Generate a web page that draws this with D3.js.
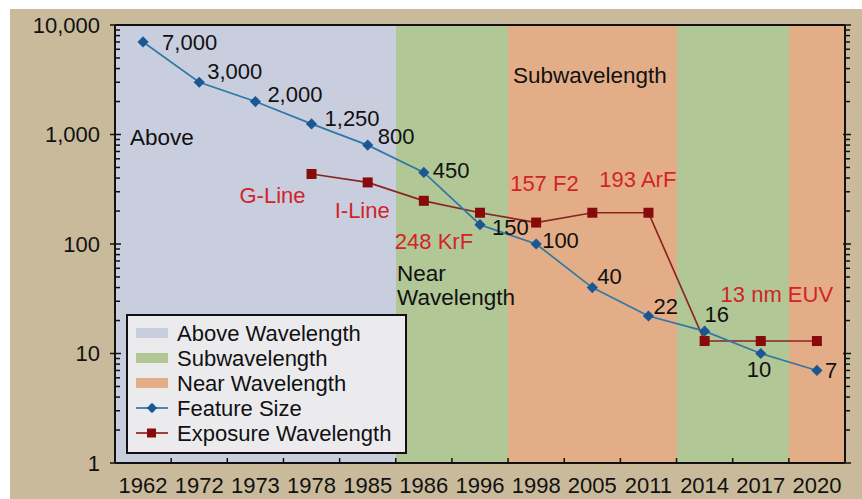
<!DOCTYPE html>
<html>
<head>
<meta charset="utf-8">
<script src="https://cdn.jsdelivr.net/npm/d3@7"></script>
<style>
  body { margin: 0; background: #fff; }
  svg text { font-family: "Liberation Sans", Arial, Helvetica, sans-serif; }
</style>
</head>
<body>
<svg id="chart" width="862" height="499"></svg>
<script>
// categories along the bottom
var years = ["1962", "1972", "1973", "1978", "1985", "1986", "1996", "1998", "2005", "2011", "2014", "2017", "2020"];
// background region for each category
var regions = ["above", "above", "above", "above", "above", "sub", "sub", "near", "near", "near", "sub", "sub", "near"];
// feature size (nm)
var featureSize = [7000, 3000, 2000, 1250, 800, 450, 150, 100, 40, 22, 16, 10, 7];
var featureLabels = ["7,000", "3,000", "2,000", "1,250", "800", "450", "150", "100", "40", "22", "16", "10", "7"];
// exposure wavelength (nm), starts at 1978
var exposureYears = ["1978", "1985", "1986", "1996", "1998", "2005", "2011", "2014", "2017", "2020"];
var exposureWl = [436, 365, 248, 193, 157, 193, 193, 13, 13, 13];
var exposureNames = ["G-Line", "I-Line", "248 KrF", "", "157 F2", "193 ArF", "", "13 nm EUV", "", ""];
// y axis
var yTicks = [1, 10, 100, 1000, 10000];
var yTickLabels = ["1", "10", "100", "1,000", "10,000"];
// legend
var legendItems = ["Above Wavelength", "Subwavelength", "Near Wavelength", "Feature Size", "Exposure Wavelength"];

var regionColor = { above: "#c9cedf", sub: "#b1c796", near: "#e3ae87" };
var blueLine = "#2f78a6", blueMark = "#1b5793";
var redLine = "#8c2424", redMark = "#870b0b";
var redText = "#d2232a";

var svg = d3.select("#chart");
var pL = 115, pR = 845, pT = 25, pB = 463;

// tan frame
svg.append("rect").attr("x", 10).attr("y", 9).attr("width", 852).attr("height", 490)
  .attr("fill", "#c9ba9c");

var x = d3.scaleBand().domain(years).range([pL, pR]).padding(0);
var y = d3.scaleLog().domain([1, 10000]).range([pB, pT]);
var cx = function(yr) { return x(yr) + x.bandwidth() / 2; };

// background bands
svg.append("g").selectAll("rect")
  .data(years)
  .enter().append("rect")
    .attr("x", function(d) { return x(d); })
    .attr("y", pT)
    .attr("width", x.bandwidth() + 0.5)
    .attr("height", pB - pT)
    .attr("fill", function(d, i) { return regionColor[regions[i]]; })
    .attr("shape-rendering", "crispEdges");

// frame lines
var frame = svg.append("g").attr("stroke", "#111").attr("stroke-width", 2);
frame.append("line").attr("x1", pL).attr("x2", pR).attr("y1", pT).attr("y2", pT);
frame.append("line").attr("x1", pL).attr("x2", pR).attr("y1", pB).attr("y2", pB);
frame.append("line").attr("x1", pL).attr("x2", pL).attr("y1", pT).attr("y2", pB);
frame.append("line").attr("x1", pR).attr("x2", pR).attr("y1", pT).attr("y2", pB);

// y ticks (major + minor)
var minor = [];
for (var p = 1; p < 10000; p *= 10) {
  for (var m = 2; m < 10; m++) minor.push(p * m);
}
var ticks = svg.append("g").attr("stroke", "#111").attr("stroke-width", 1.5);
minor.forEach(function(v) {
  ticks.append("line").attr("x1", pL).attr("x2", pL + 5).attr("y1", y(v)).attr("y2", y(v));
  ticks.append("line").attr("x1", pR).attr("x2", pR + 5).attr("y1", y(v)).attr("y2", y(v));
});
yTicks.forEach(function(v) {
  ticks.append("line").attr("x1", pL - 5).attr("x2", pL + 6).attr("y1", y(v)).attr("y2", y(v));
  ticks.append("line").attr("x1", pR - 2).attr("x2", pR + 6).attr("y1", y(v)).attr("y2", y(v));
});
// x ticks at band edges
years.slice(1).forEach(function(d) {
  ticks.append("line").attr("x1", x(d)).attr("x2", x(d)).attr("y1", pB).attr("y2", pB - 5);
});

svg.append("g").selectAll("text")
  .data(yTicks)
  .enter().append("text")
    .attr("x", 100)
    .attr("y", function(d) { return y(d); })
    .attr("dy", "0.35em")
    .attr("text-anchor", "end")
    .attr("font-size", 22)
    .attr("fill", "#111")
    .text(function(d, i) { return yTickLabels[i]; });

svg.append("g").selectAll("text")
  .data(years)
  .enter().append("text")
    .attr("x", function(d) { return cx(d); })
    .attr("y", 493)
    .attr("text-anchor", "middle")
    .attr("font-size", 22)
    .attr("fill", "#111")
    .text(function(d) { return d; });

// region texts
var note = svg.append("g").attr("font-size", 22.5).attr("fill", "#111");
note.append("text").attr("x", 130).attr("y", 145).text("Above");
note.append("text").attr("x", 513).attr("y", 83).text("Subwavelength");
note.append("text").attr("x", 397).attr("y", 281).text("Near");
note.append("text").attr("x", 397).attr("y", 305).text("Wavelength");

// exposure wavelength line
var redPts = exposureYears.map(function(d, i) { return [cx(d), y(exposureWl[i])]; });
svg.append("path")
  .attr("d", d3.line()(redPts))
  .attr("fill", "none").attr("stroke", redLine).attr("stroke-width", 1.7);
svg.append("g").selectAll("rect")
  .data(redPts)
  .enter().append("rect")
    .attr("x", function(d) { return d[0] - 5; })
    .attr("y", function(d) { return d[1] - 5; })
    .attr("width", 10).attr("height", 10)
    .attr("fill", redMark);

// feature size line
var bluePts = years.map(function(d, i) { return [cx(d), y(featureSize[i])]; });
svg.append("path")
  .attr("d", d3.line()(bluePts))
  .attr("fill", "none").attr("stroke", blueLine).attr("stroke-width", 1.7);
svg.append("g").selectAll("path")
  .data(bluePts)
  .enter().append("path")
    .attr("d", d3.symbol().type(d3.symbolDiamond2).size(80))
    .attr("transform", function(d) { return "translate(" + d[0] + "," + d[1] + ")"; })
    .attr("fill", blueMark);

// feature labels: offsets from each point
var fOff = [[19, 0], [8, -11], [12, -7], [13, -6], [10, -9], [9, -2], [12, 3], [6, -4], [5, -11], [5, -10], [0, -17], [-14, 16], [8, 0]];
svg.append("g").selectAll("text")
  .data(bluePts)
  .enter().append("text")
    .attr("x", function(d, i) { return d[0] + fOff[i][0]; })
    .attr("y", function(d, i) { return d[1] + fOff[i][1]; })
    .attr("dy", "0.35em")
    .attr("font-size", 22)
    .attr("fill", "#111")
    .text(function(d, i) { return featureLabels[i]; });

// exposure labels
var eOff = [[-6, 21, "end"], [-33, 28, "start"], [-29, 40, "start"], [0, 0, "start"], [-26, -39, "start"],
            [7, -33, "start"], [0, 0, "start"], [16, -47, "start"], [0, 0, "start"], [0, 0, "start"]];
svg.append("g").selectAll("text")
  .data(redPts)
  .enter().append("text")
    .attr("x", function(d, i) { return d[0] + eOff[i][0]; })
    .attr("y", function(d, i) { return d[1] + eOff[i][1]; })
    .attr("dy", "0.35em")
    .attr("text-anchor", function(d, i) { return eOff[i][2]; })
    .attr("font-size", 22)
    .attr("fill", redText)
    .text(function(d, i) { return exposureNames[i]; });

// legend
var lg = svg.append("g");
lg.append("rect").attr("x", 127).attr("y", 315).attr("width", 279).attr("height", 138)
  .attr("fill", "#ebebee").attr("stroke", "#111").attr("stroke-width", 2);
var swatch = [regionColor.above, regionColor.sub, regionColor.near];
legendItems.forEach(function(t, i) {
  var ly = 333 + i * 25;
  if (i < 3) {
    lg.append("rect").attr("x", 136).attr("y", ly - 5).attr("width", 32).attr("height", 10)
      .attr("fill", swatch[i]);
  } else {
    var col = i == 3 ? blueLine : redLine;
    lg.append("line").attr("x1", 136).attr("x2", 168).attr("y1", ly).attr("y2", ly)
      .attr("stroke", col).attr("stroke-width", 1.7);
    if (i == 3) {
      lg.append("path").attr("d", d3.symbol().type(d3.symbolDiamond2).size(70))
        .attr("transform", "translate(152," + ly + ")").attr("fill", blueMark);
    } else {
      lg.append("rect").attr("x", 147).attr("y", ly - 4.5).attr("width", 9).attr("height", 9)
        .attr("fill", redMark);
    }
  }
  lg.append("text").attr("x", 177).attr("y", ly).attr("dy", "0.35em")
    .attr("font-size", 22).attr("fill", "#111").text(t);
});
</script>
</body>
</html>
